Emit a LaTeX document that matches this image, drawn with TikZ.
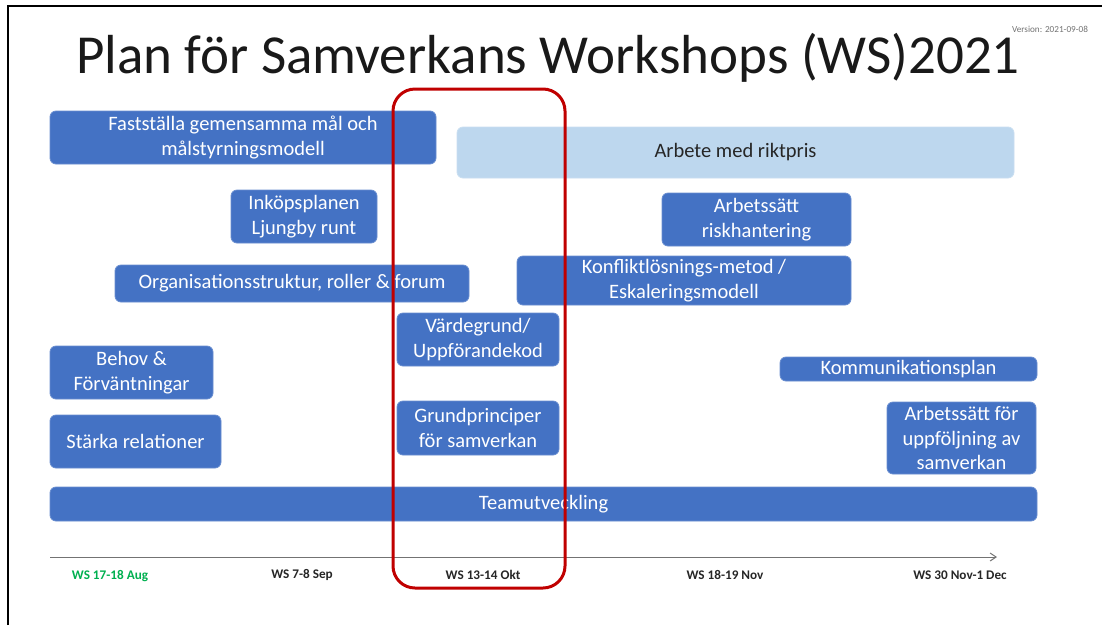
\documentclass[tikz,border=0pt]{standalone}
\usepackage{fontspec}
\setmainfont{Carlito}
\usetikzlibrary{arrows.meta}
\definecolor{bbl}{HTML}{4472C4}
\definecolor{lbl}{HTML}{BDD7EE}
\definecolor{rd}{HTML}{C00000}
\definecolor{gr}{HTML}{00B050}
\tikzset{
  bx/.style={draw=bbl!80!white, line width=0.8pt, fill=bbl, rounded corners=6pt, text=white, align=center, inner sep=0pt,
    font=\fontsize{20.5}{24.5}\selectfont},
  lbx/.style={bx, fill=lbl, draw=lbl!80!white, text=black!85},
  axlab/.style={font=\bfseries\fontsize{13.2}{15}\selectfont, text=black!85},
}
\newcommand{\bxat}[6]{\node[#1, minimum width={(#4-#3)*1pt}, minimum height={(#6-#5)*1pt}] (#2) at ({(#3+#4)/2},{(#5+#6)/2})}
\begin{document}
\begin{tikzpicture}[x=1pt,y=-1pt]
\useasboundingbox (0,0) rectangle (1102,625);
\fill[white] (0,0) rectangle (1102,625);
% frame
\draw[line width=2pt] (8,625) -- (8,6) -- (1102,6);
% title
\node[font=\fontsize{55}{66}\selectfont, text=black!90, anchor=center] (title) at (548,58) {Plan för Samverkans Workshops (WS)2021};
\node[font=\fontsize{9.2}{11}\selectfont, text=black!55] (ver) at (1050,29) {Version: 2021-09-08};
% boxes
\bxat{bx}{fast}{50}{436}{111}{164} {Fastställa gemensamma mål och\\målstyrningsmodell};
\bxat{lbx}{riktpris}{457}{1014}{127}{178} {Arbete med riktpris};
\bxat{bx}{inkop}{231}{377}{190}{243} {Inköpsplanen\\Ljungby runt};
\bxat{bx}{risk}{662}{851}{193}{246} {Arbetssätt\\riskhantering};
\bxat{bx}{org}{115}{469}{265}{302} {Organisationsstruktur, roller \& forum};
\bxat{bx}{konf}{517}{851}{256}{305} {Konfliktlösnings-metod /\\Eskaleringsmodell};
\bxat{bx}{varde}{397}{559}{313}{366} {Värdegrund/\\Uppförandekod};
\bxat{bx}{behov}{50}{213}{346}{399} {Behov \&\\Förväntningar};
\bxat{bx}{komm}{780}{1037}{357}{381} {Kommunikationsplan};
\bxat{bx}{stark}{50}{221}{415}{468} {Stärka relationer};
\bxat{bx}{grund}{397}{559}{401}{455} {Grundprinciper\\för samverkan};
\bxat{bx}{uppf}{887}{1036}{402}{474} {Arbetssätt för\\uppföljning av\\samverkan};
\bxat{bx}{team}{50}{1037}{487}{521} {Teamutveckling};
% axis
\coordinate (axs) at (50,557);
\coordinate (axe) at (997,557);
\draw[black!55, line width=1pt, -{Straight Barb[length=6pt,width=8pt]}] (axs) -- (axe);
\node[axlab, text=gr] (l1) at (110,576) {WS 17-18 Aug};
\node[axlab] (l2) at (302,575) {WS 7-8 Sep};
\node[axlab] (l3) at (483,575) {WS 13-14 Okt};
\node[axlab] (l4) at (725,575) {WS 18-19 Nov};
\node[axlab] (l5) at (960,575) {WS 30 Nov-1 Dec};
% red highlight
\draw[rd, line width=3pt, rounded corners=22pt] (393,89) rectangle (565,588);
\end{tikzpicture}
\end{document}
